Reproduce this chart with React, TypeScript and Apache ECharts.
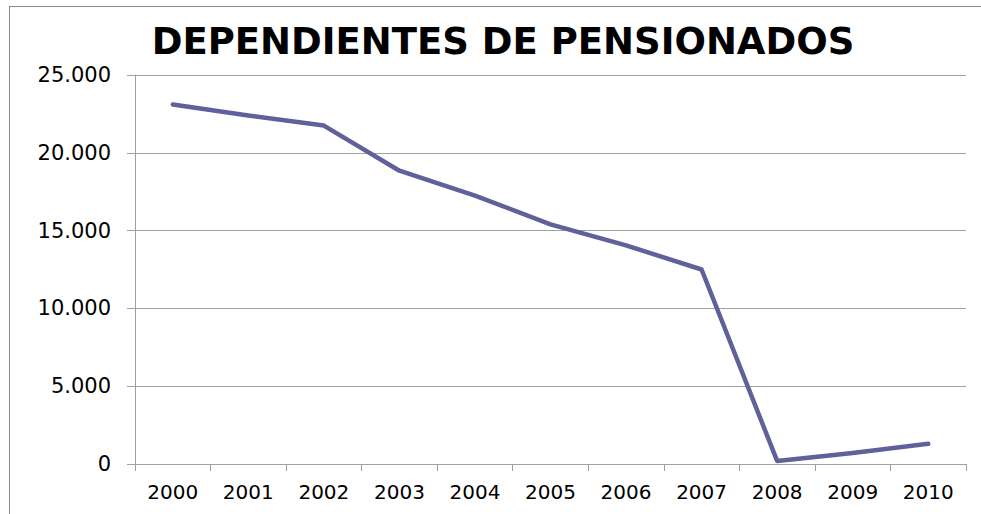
import React, { useEffect, useRef } from "react";
import * as echarts from "echarts";

const years = ["2000", "2001", "2002", "2003", "2004", "2005", "2006", "2007", "2008", "2009", "2010"];
const dependientes = [23100, 22400, 21750, 18850, 17250, 15400, 14050, 12500, 200, 700, 1300];
const titleText = "DEPENDIENTES DE PENSIONADOS";

const fmt = (v: number) => {
  if (v === 0) return "0";
  const s = String(Math.round(v));
  return s.replace(/\B(?=(\d{3})+(?!\d))/g, ".");
};

export default function App() {
  const ref = useRef<HTMLDivElement>(null);
  useEffect(() => {
    if (!ref.current) return;
    const chart = echarts.init(ref.current, undefined, { renderer: "svg" });
    chart.setOption({
      animation: false,
      backgroundColor: "#ffffff",
      title: {
        text: titleText,
        left: 498,
        textAlign: "center",
        top: 18,
        textStyle: {
          fontFamily: "DejaVu Sans",
          fontWeight: "bold",
          fontSize: 37,
          color: "#000000",
        },
      },
      graphic: [
        {
          type: "line",
          shape: { x1: 9, y1: 6.5, x2: 981, y2: 6.5 },
          style: { stroke: "#8c8c8c", lineWidth: 1 },
        },
        {
          type: "line",
          shape: { x1: 9.5, y1: 6, x2: 9.5, y2: 514 },
          style: { stroke: "#8c8c8c", lineWidth: 1 },
        },
      ],
      grid: { left: 135, right: 15, top: 75, bottom: 50 },
      xAxis: {
        type: "category",
        data: years,
        boundaryGap: true,
        axisLine: { lineStyle: { color: "#a0a0a0", width: 1 } },
        axisTick: { show: true, length: 7, lineStyle: { color: "#a0a0a0" } },
        axisLabel: {
          fontFamily: "DejaVu Sans",
          fontSize: 20,
          color: "#000000",
          margin: 18,
        },
      },
      yAxis: {
        type: "value",
        min: 0,
        max: 25000,
        interval: 5000,
        axisLine: { show: true, lineStyle: { color: "#a0a0a0", width: 1 } },
        axisTick: { show: true, length: 8, lineStyle: { color: "#a0a0a0" } },
        splitLine: { lineStyle: { color: "#a0a0a0", width: 1 } },
        axisLabel: {
          fontFamily: "DejaVu Sans",
          fontSize: 21,
          color: "#000000",
          margin: 24,
          formatter: (v: number) => fmt(v),
        },
      },
      series: [
        {
          type: "line",
          data: dependientes,
          symbol: "none",
          lineStyle: { color: "#60609a", width: 4.5, cap: "round", join: "round" },
        },
      ],
    });
    return () => chart.dispose();
  }, []);
  return <div ref={ref} style={{ width: 981, height: 514, position: "absolute", left: 0, top: 0 }} />;
}
